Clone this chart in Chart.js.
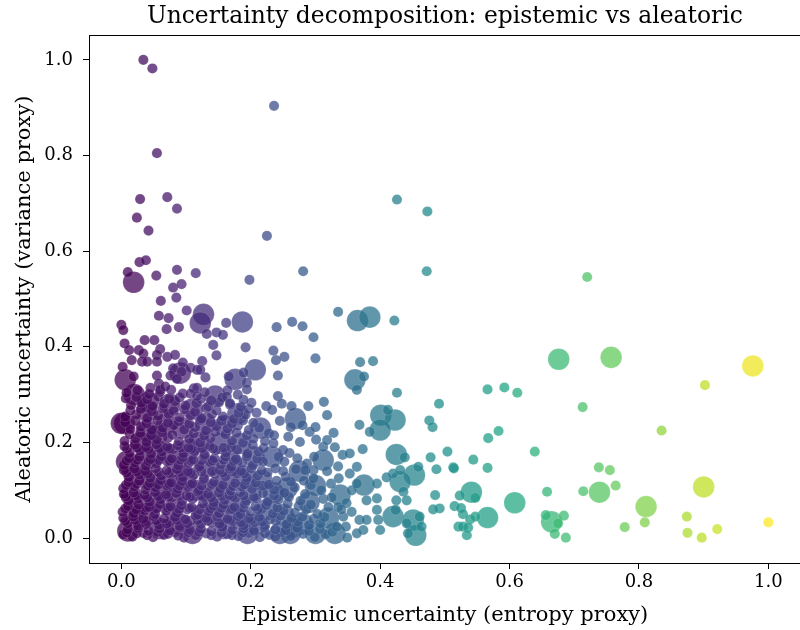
<!DOCTYPE html>
<html>
<head>
<meta charset="utf-8">
<script src="https://cdn.jsdelivr.net/npm/chart.js@4.4.1/dist/chart.umd.min.js"></script>
<style>
  html, body { margin: 0; padding: 0; background: #fff; overflow: hidden; }
  #wrap { position: relative; width: 812px; height: 630px; }
</style>
</head>
<body>
<div id="wrap"><canvas id="c"></canvas></div>
<script>
// ---------------- DATA ----------------
const chartTitle = "Uncertainty decomposition: epistemic vs aleatoric";
const xAxisLabel = "Epistemic uncertainty (entropy proxy)";
const yAxisLabel = "Aleatoric uncertainty (variance proxy)";
const xTickValues = [0.0, 0.2, 0.4, 0.6, 0.8, 1.0];
const yTickValues = [0.0, 0.2, 0.4, 0.6, 0.8, 1.0];

// samples drawn with the large marker: [epistemic, aleatoric]
const largeSamples = [
  [0.020,0.060],[0.050,0.075],[0.090,0.030],[0.100,0.130],[0.035,0.160],[0.060,0.180],[0.105,0.185],[0.070,0.240],
  [0.130,0.240],[0.020,0.130],[0.140,0.085],[0.150,0.050],[0.185,0.040],[0.190,0.130],[0.170,0.160],[0.205,0.170],
  [0.225,0.060],[0.235,0.095],[0.250,0.050],[0.280,0.030],[0.290,0.075],[0.300,0.010],[0.275,0.140],
  [0.215,0.230],[0.180,0.260],[0.160,0.235],[0.300,0.110],[0.330,0.010],[0.195,0.010],[0.085,0.110],[0.040,0.225],
  [0.010,0.015],[0.030,0.045],[0.015,0.090],[0.045,0.120],[0.008,0.160],[0.030,0.200],
  [0.060,0.020],[0.080,0.060],[0.065,0.110],[0.085,0.160],[0.055,0.215],[0.095,0.230],
  [0.110,0.010],[0.125,0.050],[0.115,0.100],[0.135,0.150],[0.120,0.200],[0.160,0.020],
  [0.175,0.070],[0.160,0.115],[0.153,0.198],[0.184,0.198],[0.210,0.030],[0.200,0.095],
  [0.245,0.010],[0.040,0.265],[0.075,0.280],[0.020,0.300],[0.110,0.270],[0.005,0.240],
  [0.000,0.240],[0.042,0.285],[0.145,0.297],[0.006,0.331],[0.091,0.345],[0.176,0.332],
  [0.207,0.352],[0.338,0.090],[0.320,0.042],[0.265,0.023],[0.261,0.010],
  [0.019,0.535],[0.127,0.468],[0.122,0.450],[0.187,0.452],[0.365,0.455],[0.384,0.462],
  [0.361,0.331],[0.269,0.250],[0.401,0.257],[0.423,0.247],[0.400,0.226],[0.425,0.175],
  [0.312,0.163],[0.453,0.132],[0.431,0.118],[0.375,0.111],[0.420,0.045],[0.451,0.038],
  [0.455,0.006],[0.541,0.096],[0.608,0.074],[0.566,0.043],[0.665,0.034],[0.739,0.096],
  [0.811,0.066],[0.900,0.107],[0.676,0.374],[0.757,0.378],[0.976,0.360],
  [0.217,0.121],[0.233,0.170],[0.256,0.104]
];

// samples drawn with the small marker: [epistemic, aleatoric]
const smallSamples = [
  // dense core
  [0.003,0.008],[0.017,0.003],[0.034,0.011],[0.049,0.002],[0.066,0.007],[0.083,0.012],[0.097,0.001],[0.115,0.006],[0.131,0.010],[0.148,0.003],
  [0.163,0.009],[0.181,0.004],[0.197,0.011],[0.214,0.002],[0.229,0.007],[0.247,0.012],[0.262,0.004],[0.281,0.009],[0.299,0.002],[0.316,0.008],
  [0.008,0.012],[0.024,0.010],[0.040,0.006],[0.056,0.013],[0.072,0.009],[0.088,0.005],[0.104,0.012],[0.120,0.013],[0.139,0.006],[0.155,0.012],
  [0.171,0.006],[0.188,0.012],[0.222,0.010],[0.238,0.003],
  [0.010,0.018],[0.026,0.021],[0.042,0.015],[0.059,0.020],[0.075,0.016],[0.091,0.022],[0.106,0.017],[0.123,0.019],[0.139,0.014],[0.156,0.021],
  [0.172,0.017],[0.189,0.020],[0.205,0.015],[0.221,0.022],[0.238,0.018],[0.254,0.016],[0.272,0.021],[0.290,0.015],[0.307,0.019],[0.326,0.013],
  [0.010,0.031],[0.026,0.026],[0.041,0.035],[0.058,0.028],[0.075,0.033],[0.090,0.025],[0.107,0.036],[0.123,0.029],[0.140,0.032],[0.156,0.024],
  [0.172,0.035],[0.189,0.027],[0.206,0.033],[0.222,0.026],[0.239,0.036],[0.255,0.029],[0.273,0.034],[0.290,0.027],[0.308,0.031],
  [0.006,0.036],[0.022,0.038],[0.038,0.029],[0.054,0.037],[0.070,0.030],[0.086,0.038],[0.102,0.031],[0.118,0.038],[0.134,0.036],[0.152,0.030],
  [0.168,0.038],[0.185,0.033],[0.201,0.038],[0.218,0.034],
  [0.003,0.042],[0.018,0.045],[0.034,0.040],[0.050,0.046],[0.066,0.041],[0.083,0.044],[0.099,0.039],[0.115,0.047],[0.131,0.042],[0.148,0.045],
  [0.164,0.040],[0.180,0.046],[0.197,0.041],[0.213,0.044],[0.230,0.039],[0.246,0.047],[0.263,0.042],[0.280,0.045],[0.297,0.040],[0.314,0.044],
  [0.002,0.055],[0.019,0.052],[0.036,0.058],[0.052,0.050],[0.069,0.057],[0.086,0.053],[0.102,0.060],[0.118,0.049],[0.135,0.056],[0.151,0.052],
  [0.168,0.059],[0.184,0.050],[0.200,0.055],[0.217,0.061],[0.234,0.051],[0.251,0.057],[0.268,0.053],[0.286,0.060],[0.303,0.050],
  [0.006,0.062],[0.023,0.060],[0.039,0.064],[0.055,0.062],[0.072,0.063],[0.089,0.061],[0.105,0.063],[0.121,0.060],[0.138,0.062],[0.155,0.063],
  [0.171,0.061],[0.188,0.063],[0.211,0.060],
  [0.010,0.067],[0.027,0.070],[0.043,0.065],[0.060,0.071],[0.076,0.066],[0.093,0.069],[0.109,0.064],[0.126,0.072],[0.142,0.067],[0.158,0.070],
  [0.175,0.065],[0.191,0.071],[0.207,0.066],[0.224,0.069],[0.241,0.064],[0.257,0.072],[0.274,0.067],[0.293,0.070],
  [0.011,0.079],[0.027,0.083],[0.044,0.076],[0.061,0.081],[0.078,0.085],[0.094,0.077],[0.110,0.082],[0.127,0.086],[0.143,0.075],[0.160,0.080],
  [0.176,0.084],[0.193,0.078],[0.209,0.083],[0.226,0.076],[0.243,0.081],[0.259,0.086],[0.277,0.078],[0.312,0.082],
  [0.007,0.087],[0.023,0.089],[0.040,0.085],[0.057,0.088],[0.073,0.086],[0.090,0.088],[0.106,0.086],[0.123,0.089],[0.139,0.085],[0.156,0.088],
  [0.172,0.087],[0.189,0.089],[0.205,0.086],
  [0.004,0.092],[0.019,0.095],[0.036,0.090],[0.052,0.096],[0.069,0.091],[0.085,0.094],[0.101,0.089],[0.118,0.097],[0.134,0.092],[0.151,0.095],
  [0.167,0.090],[0.184,0.096],[0.219,0.094],[0.236,0.089],[0.252,0.095],[0.284,0.092],
  [0.003,0.104],[0.020,0.108],[0.037,0.101],[0.053,0.106],[0.070,0.110],[0.087,0.103],[0.103,0.107],[0.120,0.100],[0.136,0.109],[0.153,0.104],
  [0.169,0.099],[0.186,0.108],[0.202,0.103],[0.219,0.110],[0.236,0.101],[0.268,0.106],
  [0.007,0.111],[0.024,0.113],[0.041,0.110],[0.057,0.112],[0.074,0.113],[0.090,0.110],[0.107,0.112],[0.124,0.110],[0.140,0.113],[0.157,0.111],
  [0.173,0.108],[0.190,0.112],
  [0.011,0.117],[0.028,0.120],[0.044,0.115],[0.061,0.121],[0.077,0.116],[0.094,0.119],[0.110,0.114],[0.127,0.122],[0.143,0.117],[0.176,0.115],
  [0.193,0.121],[0.208,0.116],[0.228,0.112],[0.262,0.118],
  [0.012,0.128],[0.028,0.133],[0.045,0.126],[0.062,0.131],[0.079,0.136],[0.095,0.127],[0.112,0.132],[0.128,0.125],[0.145,0.134],[0.161,0.129],
  [0.178,0.135],[0.194,0.126],[0.211,0.131],[0.226,0.137],[0.254,0.128],
  [0.008,0.137],[0.024,0.139],[0.041,0.135],[0.058,0.138],[0.074,0.136],[0.091,0.138],[0.107,0.136],[0.124,0.139],[0.140,0.140],[0.157,0.137],
  [0.173,0.139],[0.190,0.135],
  [0.004,0.142],[0.020,0.145],[0.037,0.140],[0.053,0.146],[0.070,0.141],[0.086,0.144],[0.103,0.139],[0.119,0.147],[0.152,0.142],[0.168,0.145],
  [0.185,0.140],[0.201,0.146],[0.217,0.141],[0.238,0.146],
  [0.004,0.153],[0.021,0.158],[0.038,0.151],[0.054,0.156],[0.071,0.160],[0.088,0.152],[0.104,0.157],[0.121,0.150],[0.137,0.159],[0.154,0.154],
  [0.170,0.149],[0.187,0.158],[0.203,0.152],[0.219,0.160],
  [0.008,0.162],[0.025,0.164],[0.042,0.161],[0.058,0.163],[0.075,0.162],[0.091,0.164],[0.108,0.161],[0.124,0.163],[0.141,0.162],[0.158,0.164],
  [0.174,0.161],
  [0.012,0.167],[0.028,0.170],[0.045,0.165],[0.062,0.171],[0.078,0.166],[0.095,0.169],[0.111,0.164],[0.128,0.172],[0.144,0.167],[0.161,0.170],
  [0.177,0.165],[0.194,0.171],[0.210,0.166],
  [0.013,0.178],[0.029,0.183],[0.046,0.176],[0.063,0.181],[0.080,0.186],[0.096,0.177],[0.113,0.182],[0.129,0.175],[0.146,0.184],[0.162,0.179],
  [0.179,0.185],[0.195,0.176],[0.212,0.181],[0.260,0.178],
  [0.009,0.187],[0.025,0.189],[0.042,0.186],[0.059,0.188],[0.075,0.187],[0.092,0.189],[0.108,0.186],[0.125,0.188],[0.142,0.187],[0.158,0.189],
  [0.005,0.192],[0.021,0.195],[0.038,0.190],[0.054,0.196],[0.071,0.191],[0.087,0.194],[0.104,0.189],[0.137,0.192],[0.170,0.190],[0.203,0.195],
  [0.220,0.188],
  [0.005,0.203],[0.022,0.208],[0.039,0.201],[0.055,0.206],[0.072,0.210],[0.089,0.202],[0.105,0.207],[0.122,0.200],[0.138,0.209],[0.171,0.204],
  [0.188,0.199],[0.204,0.208],[0.222,0.203],
  [0.013,0.217],[0.029,0.220],[0.046,0.215],[0.063,0.221],[0.079,0.216],[0.112,0.219],[0.128,0.214],[0.145,0.222],[0.161,0.217],[0.178,0.220],
  [0.194,0.215],[0.228,0.219],
  [0.014,0.228],[0.030,0.233],[0.047,0.226],[0.064,0.231],[0.081,0.236],[0.097,0.227],[0.114,0.232],[0.131,0.225],[0.147,0.234],[0.164,0.229],
  [0.180,0.235],[0.197,0.226],[0.213,0.231],
  [0.006,0.242],[0.022,0.245],[0.039,0.240],[0.056,0.246],[0.072,0.241],[0.089,0.244],[0.105,0.239],[0.122,0.247],[0.138,0.242],[0.155,0.245],
  [0.171,0.240],[0.188,0.246],[0.204,0.241],
  [0.006,0.254],[0.023,0.258],[0.040,0.251],[0.057,0.256],[0.073,0.260],[0.090,0.252],[0.107,0.257],[0.124,0.250],[0.140,0.259],[0.157,0.254],
  [0.174,0.249],[0.192,0.258],[0.209,0.262],
  [0.014,0.267],[0.030,0.270],[0.047,0.265],[0.064,0.271],[0.081,0.266],[0.097,0.269],[0.114,0.264],[0.131,0.272],[0.147,0.267],[0.181,0.262],
  [0.197,0.270],
  [0.015,0.278],[0.031,0.283],[0.048,0.276],[0.066,0.281],[0.083,0.286],[0.099,0.277],[0.116,0.282],[0.134,0.275],[0.151,0.284],[0.168,0.279],
  [0.185,0.274],[0.201,0.283],
  [0.007,0.292],[0.023,0.295],[0.040,0.290],[0.057,0.296],[0.074,0.291],[0.090,0.294],[0.123,0.291],[0.139,0.288],[0.156,0.294],[0.189,0.289],
  [0.008,0.304],[0.025,0.309],[0.043,0.301],[0.060,0.306],[0.077,0.310],[0.095,0.302],[0.112,0.313],[0.129,0.305],[0.164,0.309],[0.180,0.300],
  // upper-left fringe
  [0.036,0.414],[0.051,0.414],[0.005,0.407],[0.012,0.393],[0.027,0.393],[0.034,0.386],[0.060,0.395],[0.055,0.383],[0.071,0.379],[0.083,0.383],
  [0.016,0.372],[0.032,0.369],[0.040,0.369],[0.055,0.369],[0.095,0.367],[0.080,0.355],[0.093,0.348],[0.125,0.370],[0.107,0.356],[0.117,0.352],
  [0.002,0.358],[0.019,0.338],[0.076,0.340],[0.086,0.333],[0.055,0.340],[0.058,0.323],[0.130,0.336],[0.122,0.352],[0.166,0.338],[0.189,0.346],
  [0.194,0.325],[0.194,0.311],[0.045,0.314],[0.060,0.310],[0.068,0.317],[0.117,0.314],[0.107,0.302],[0.117,0.297],[0.163,0.296],[0.168,0.282],
  [0.101,0.476],[0.058,0.465],[0.073,0.460],[0.162,0.450],[0.070,0.437],[0.089,0.441],[0.000,0.446],[0.003,0.435],[0.132,0.427],[0.147,0.430],
  [0.157,0.425],[0.142,0.404],[0.147,0.382],[0.192,0.399],
  // sparse high points
  [0.034,1.000],[0.048,0.982],[0.055,0.805],[0.029,0.709],[0.071,0.713],[0.086,0.689],[0.024,0.670],[0.042,0.643],[0.225,0.632],
  [0.028,0.577],[0.038,0.581],[0.010,0.556],[0.054,0.549],[0.086,0.561],[0.115,0.554],[0.198,0.540],[0.080,0.524],[0.093,0.531],
  [0.085,0.503],[0.061,0.496],[0.236,0.904],[0.426,0.708],[0.473,0.683],[0.281,0.558],[0.472,0.558],
  // middle region
  [0.335,0.473],[0.422,0.455],[0.264,0.452],[0.280,0.443],[0.240,0.441],[0.297,0.420],[0.235,0.392],[0.252,0.379],[0.239,0.372],[0.300,0.376],
  [0.369,0.368],[0.389,0.370],[0.375,0.338],[0.364,0.310],[0.426,0.304],[0.242,0.340],[0.491,0.281],[0.313,0.285],[0.289,0.276],[0.318,0.257],
  [0.242,0.297],[0.248,0.281],[0.263,0.276],[0.224,0.276],[0.233,0.268],[0.412,0.268],[0.368,0.237],[0.476,0.246],[0.481,0.232],
  [0.384,0.222],[0.291,0.222],[0.328,0.220],[0.276,0.201],[0.301,0.206],[0.312,0.191],[0.342,0.174],[0.353,0.177],[0.373,0.186],[0.438,0.169],
  [0.478,0.169],[0.504,0.181],[0.487,0.144],[0.513,0.148],[0.459,0.149],[0.420,0.135],[0.431,0.142],[0.410,0.127],[0.395,0.114],[0.364,0.149],
  [0.353,0.135],[0.324,0.114],[0.287,0.156],[0.272,0.167],[0.270,0.144],[0.284,0.142],[0.297,0.142],
  [0.250,0.184],[0.235,0.198],[0.243,0.170],[0.293,0.111],[0.297,0.125],[0.356,0.100],[0.364,0.114],[0.379,0.079],[0.395,0.083],[0.436,0.097],
  [0.441,0.079],[0.425,0.079],[0.485,0.090],[0.492,0.062],[0.482,0.060],[0.521,0.024],[0.424,0.059],[0.441,0.031],[0.443,0.010],[0.461,0.045],
  [0.464,0.024],[0.333,0.024],[0.347,0.024],[0.368,0.038],[0.379,0.038],[0.374,0.017],[0.364,0.010],[0.349,0.001],[0.395,0.059],[0.397,0.038],
  [0.400,0.017],[0.335,0.065],[0.348,0.073],[0.343,0.045],
  [0.245,0.245],[0.262,0.232],[0.280,0.236],[0.300,0.232],[0.258,0.212],[0.236,0.215],[0.318,0.205],[0.330,0.190],[0.298,0.170],[0.318,0.140],
  [0.335,0.150],[0.336,0.125],[0.309,0.100],[0.325,0.085],[0.340,0.060],[0.356,0.055],[0.320,0.065],[0.282,0.120],[0.250,0.140],[0.240,0.120],
  [0.252,0.160],
  // right-hand tail
  [0.720,0.546],[0.902,0.320],[0.566,0.311],[0.592,0.315],[0.612,0.304],[0.713,0.274],[0.583,0.224],[0.835,0.225],[0.567,0.209],[0.639,0.181],
  [0.544,0.164],[0.566,0.147],[0.514,0.146],[0.738,0.148],[0.755,0.142],[0.764,0.110],[0.714,0.098],[0.658,0.097],[0.547,0.084],[0.523,0.089],
  [0.515,0.067],[0.525,0.063],[0.528,0.050],[0.539,0.039],[0.547,0.045],[0.528,0.024],[0.536,0.022],[0.534,0.006],[0.656,0.048],[0.684,0.047],
  [0.675,0.031],[0.670,0.009],[0.687,0.001],[0.809,0.033],[0.778,0.023],[0.874,0.045],[0.875,0.011],[0.897,0.001],[0.921,0.019],[1.000,0.033]
];

// ---------------- STYLE HELPERS ----------------
const SERIF = '"DejaVu Serif", "Liberation Serif", serif';
const viridisStops = [
  [68,1,84],[72,36,117],[65,68,135],[53,95,141],[42,120,142],[33,145,140],
  [34,168,132],[68,191,112],[122,209,81],[189,223,38],[253,231,37]
];
function viridis(t, alpha) {
  t = Math.max(0, Math.min(1, t));
  const p = t * (viridisStops.length - 1);
  const i = Math.min(Math.floor(p), viridisStops.length - 2);
  const f = p - i;
  const a = viridisStops[i], b = viridisStops[i + 1];
  const c = a.map((v, k) => Math.round(v + (b[k] - v) * f));
  return `rgba(${c[0]},${c[1]},${c[2]},${alpha})`;
}

const points = [
  ...largeSamples.map(p => ({ x: p[0], y: p[1], big: true })),
  ...smallSamples.map(p => ({ x: p[0], y: p[1], big: false }))
];
const allX = points.map(p => p.x);
const cMin = Math.min(...allX), cMax = Math.max(...allX);

const framePlugin = {
  id: 'frame',
  afterDraw(chart) {
    const { ctx, chartArea: a } = chart;
    ctx.save();
    ctx.strokeStyle = '#000';
    ctx.lineWidth = 1;
    ctx.strokeRect(a.left + 0.5, a.top + 0.5, a.right - a.left, a.bottom - a.top);
    ctx.fillStyle = '#000';
    ctx.font = '23.4px ' + SERIF;
    ctx.textAlign = 'center';
    ctx.textBaseline = 'alphabetic';
    ctx.fillText(chartTitle, (a.left + a.right) / 2, 23);
    ctx.restore();
  }
};

new Chart(document.getElementById('c'), {
  type: 'scatter',
  data: {
    datasets: [{
      data: points,
      pointRadius: ctx => (ctx.raw && ctx.raw.big ? 10.8 : 5.1),
      pointBackgroundColor: ctx => viridis(((ctx.raw ? ctx.raw.x : 0) - cMin) / (cMax - cMin), 0.75),
      pointBorderColor: 'rgba(255,255,255,0.3)',
      pointBorderWidth: 0.5,
      pointHoverRadius: ctx => (ctx.raw && ctx.raw.big ? 10.8 : 5.1)
    }]
  },
  options: {
    responsive: true,
    maintainAspectRatio: false,
    animation: false,
    events: [],
    layout: { padding: { top: 35, right: 1, bottom: 0, left: 0 } },
    plugins: { legend: { display: false }, tooltip: { enabled: false }, title: { display: false } },
    scales: {
      x: {
        type: 'linear', min: -0.05, max: 1.05,
        afterBuildTicks: s => { s.ticks = xTickValues.map(v => ({ value: v })); },
        afterFit: s => { s.height = 67; s.paddingLeft = 0; s.paddingRight = 0; },
        ticks: { callback: v => Number(v).toFixed(1), color: '#000', font: { family: SERIF, size: 18 }, padding: 3, maxRotation: 0, autoSkip: false },
        grid: { drawOnChartArea: false, drawTicks: true, tickLength: 6, color: '#000', lineWidth: 1 },
        border: { display: true, color: '#000', width: 1 },
        title: { display: true, text: xAxisLabel, color: '#000', font: { family: SERIF, size: 21 }, padding: { top: 0, bottom: 2 } }
      },
      y: {
        type: 'linear', min: -0.052, max: 1.052,
        afterBuildTicks: s => { s.ticks = yTickValues.map(v => ({ value: v })); },
        afterFit: s => { s.width = 89; },
        ticks: { callback: v => Number(v).toFixed(1), color: '#000', font: { family: SERIF, size: 18 }, padding: 10, autoSkip: false },
        grid: { drawOnChartArea: false, drawTicks: true, tickLength: 6, color: '#000', lineWidth: 1 },
        border: { display: true, color: '#000', width: 1 },
        title: { display: true, text: yAxisLabel, color: '#000', font: { family: SERIF, size: 21 }, padding: { top: 12, bottom: 0 } }
      }
    }
  },
  plugins: [framePlugin]
});
</script>
</body>
</html>
